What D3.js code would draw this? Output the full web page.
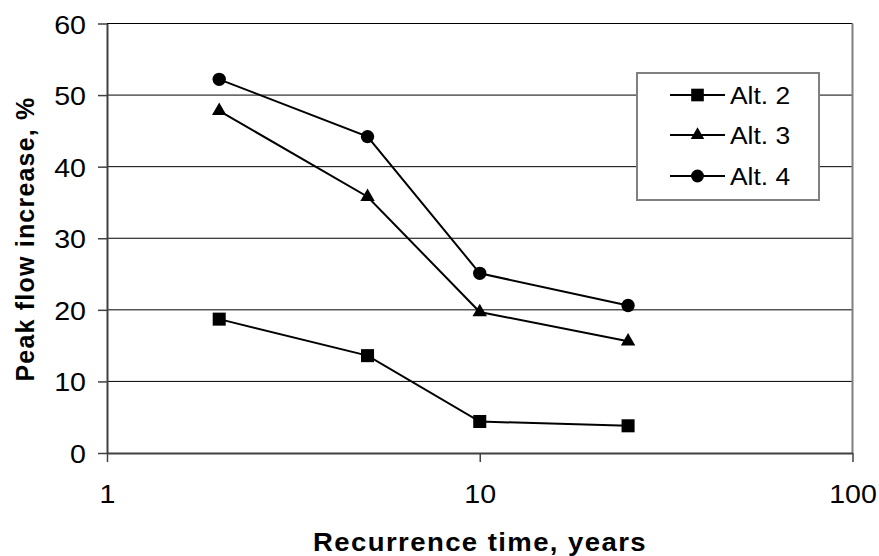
<!DOCTYPE html>
<html>
<head>
<meta charset="utf-8">
<script src="https://cdn.jsdelivr.net/npm/d3@7"></script>
<style>
  html, body { margin: 0; padding: 0; background: #fff; }
  svg { display: block; }
  text { font-family: "Liberation Sans", Arial, sans-serif; fill: #000; }
</style>
</head>
<body>
<svg id="chart" width="879" height="556"></svg>
<script>
// Recurrence intervals (years) and peak flow increase (%) per alternative
const recurrence = [2, 5, 10, 25];
const alt2 = [18.7, 13.6, 4.4, 3.8];
const alt3 = [47.8, 35.8, 19.7, 15.6];
const alt4 = [52.2, 44.2, 25.1, 20.6];
const seriesNames = ["Alt. 2", "Alt. 3", "Alt. 4"];
const xTicks = [1, 10, 100];
const yTicks = [0, 10, 20, 30, 40, 50, 60];

const series = [
  { name: seriesNames[0], values: alt2, symbol: d3.symbolSquare },
  { name: seriesNames[1], values: alt3, symbol: d3.symbolTriangle },
  { name: seriesNames[2], values: alt4, symbol: d3.symbolCircle }
];

const svg = d3.select("#chart");
const plotLeft = 107, plotRight = 852.5, plotTop = 23.5, plotBottom = 453;

const x = d3.scaleLog().domain([1, 100]).range([plotLeft, plotRight]);
const y = d3.scaleLinear().domain([0, 60]).range([plotBottom, plotTop]);

const sx = 1.1; // horizontal stretch of the lettering

// horizontal gridlines
svg.append("g").selectAll("line")
  .data(yTicks.filter(v => v > 0))
  .join("line")
  .attr("x1", plotLeft).attr("x2", plotRight)
  .attr("y1", d => y(d)).attr("y2", d => y(d))
  .attr("stroke", "#000").attr("stroke-width", 1);

// plot frame: right edge
svg.append("line")
  .attr("x1", plotRight).attr("x2", plotRight).attr("y1", plotTop).attr("y2", plotBottom)
  .attr("stroke", "#808080").attr("stroke-width", 2);

// y axis
const yAxis = svg.append("g")
  .attr("transform", `translate(${plotLeft},0)`)
  .call(d3.axisLeft(y).tickValues(yTicks).tickSize(9).tickSizeOuter(0).tickPadding(0).tickFormat(d3.format("d")));
yAxis.select(".domain").attr("stroke", "#404040").attr("stroke-width", 2);
yAxis.selectAll(".tick line").attr("stroke", "#404040").attr("stroke-width", 1.5);
yAxis.selectAll(".tick text").remove();
yAxis.selectAll(".tick").append("text")
  .attr("text-anchor", "end")
  .attr("font-size", 26)
  .attr("transform", `translate(-21,9.5) scale(${sx},1)`)
  .text(d => d);

// x axis
const xAxis = svg.append("g")
  .attr("transform", `translate(0,${plotBottom})`)
  .call(d3.axisBottom(x).tickValues(xTicks).tickSize(9).tickSizeOuter(0).tickPadding(0).tickFormat(d3.format("d")));
xAxis.select(".domain").attr("stroke", "#404040").attr("stroke-width", 2);
xAxis.selectAll(".tick line").attr("stroke", "#404040").attr("stroke-width", 1.5);
xAxis.selectAll(".tick text").remove();
xAxis.selectAll(".tick").append("text")
  .attr("text-anchor", "middle")
  .attr("font-size", 26)
  .attr("transform", `translate(0,49.5) scale(${sx},1)`)
  .text(d => d);

// series lines and markers
const line = d3.line().x(d => x(d[0])).y(d => y(d[1]));
const markerSize = sym => sym === d3.symbolTriangle ? 90 : (sym === d3.symbolCircle ? 140 : 170);
series.forEach(s => {
  const pts = recurrence.map((r, i) => [r, s.values[i]]);
  svg.append("path")
    .datum(pts)
    .attr("d", line)
    .attr("fill", "none")
    .attr("stroke", "#000")
    .attr("stroke-width", 2);
  svg.append("g").selectAll("path")
    .data(pts)
    .join("path")
    .attr("transform", d => `translate(${x(d[0])},${y(d[1])})`)
    .attr("d", d3.symbol().type(s.symbol).size(markerSize(s.symbol)))
    .attr("fill", "#000");
});

// axis titles
svg.append("text")
  .attr("text-anchor", "middle")
  .attr("font-size", 25)
  .attr("font-weight", "bold")
  .attr("letter-spacing", 1.3)
  .attr("transform", `translate(480,551) scale(${sx},1)`)
  .text("Recurrence time, years");

svg.append("text")
  .attr("text-anchor", "middle")
  .attr("font-size", 25)
  .attr("font-weight", "bold")
  .attr("letter-spacing", 1.2)
  .attr("transform", `translate(34,239) rotate(-90)`)
  .text("Peak flow increase, %");

// legend
const legend = svg.append("g");
legend.append("rect")
  .attr("x", 637).attr("y", 73).attr("width", 182).attr("height", 127)
  .attr("fill", "#fff").attr("stroke", "#808080").attr("stroke-width", 2);
const rowY = [95, 135, 176];
series.forEach((s, i) => {
  const g = legend.append("g").attr("transform", `translate(0,${rowY[i]})`);
  g.append("line").attr("x1", 670).attr("x2", 725).attr("y1", 0).attr("y2", 0)
    .attr("stroke", "#000").attr("stroke-width", 2);
  g.append("path")
    .attr("transform", "translate(697.5,0)")
    .attr("d", d3.symbol().type(s.symbol).size(markerSize(s.symbol) - 10))
    .attr("fill", "#000");
  g.append("text")
    .attr("font-size", 24)
    .attr("transform", `translate(730,9) scale(${sx},1)`)
    .text(s.name);
});
</script>
</body>
</html>
